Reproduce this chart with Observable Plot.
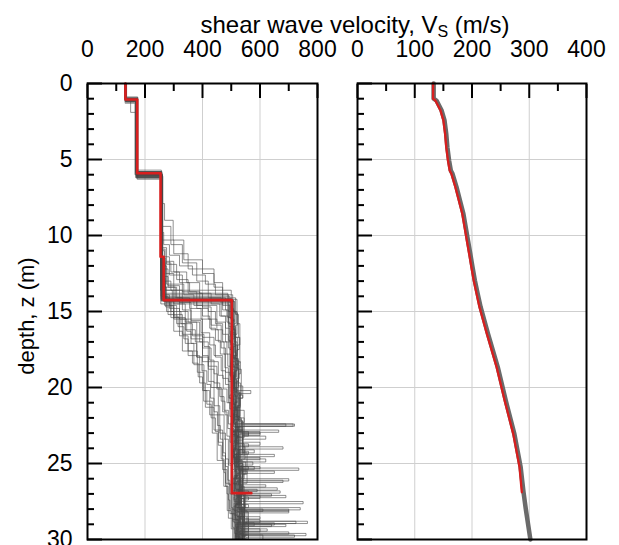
<!DOCTYPE html>
<html>
<head>
<meta charset="utf-8">
<script src="https://cdn.jsdelivr.net/npm/d3@7"></script>
<script src="https://cdn.jsdelivr.net/npm/@observablehq/plot@0.6"></script>
<style>
  html, body { margin: 0; padding: 0; background: #fff; }
  #wrap { position: relative; width: 619px; height: 545px; overflow: hidden;
          font-family: "Liberation Sans", Arial, sans-serif; color: #000; }
  #title { position: absolute; left: 0; width: 710px; top: 12px; text-align: center;
           font-size: 24px; line-height: 25px; white-space: nowrap; }
  #title sub { font-size: 16px; vertical-align: -4px; line-height: 0; }
  #ylab { position: absolute; left: 27px; top: 316px; font-size: 22px; white-space: nowrap;
          transform: translate(-50%, -50%) rotate(-90deg); }
  .panel { position: absolute; top: 0; }
</style>
</head>
<body>
<div id="wrap">
  <div id="title">shear wave velocity, V<sub>S</sub> (m/s)</div>
  <div id="ylab">depth, z (m)</div>
  <div id="p1" class="panel" style="left:0px"></div>
  <div id="p2" class="panel" style="left:330px"></div>
</div>
<script>
// ---------- axis tick values ----------
const depthLabels = [0, 5, 10, 15, 20, 25, 30];
const depthMinor = [1,2,3,4,6,7,8,9,11,12,13,14,16,17,18,19,21,22,23,24,26,27,28,29];
const depthGrid = [5, 10, 15, 20, 25];
const vsLeftLabels = [0, 200, 400, 600, 800];
const vsLeftMinor = [100, 300, 500, 700];
const vsLeftGrid = [200, 400, 600];
const vsRightLabels = [0, 100, 200, 300, 400];
const vsRightMinor = [50, 150, 250, 350];
const vsRightGrid = [100, 200, 300];

// ---------- left panel: layered profiles [layer top depth (m), Vs (m/s)] ----------
const medianLayers = [[0,132],[1.05,173],[5.9,254],[11.4,265],[14.25,502],[26.95,570]];
const medianEnd = 26.95;

const gp01 = [[0,132],[1.0,172],[6.0,256],[14.3,498],[15.5,510],[16.8,505],[18.0,515],[19.5,520],[21.0,510],[22.4,715],[22.55,515],[24.0,525],[25.5,540],[27.0,520],[28.5,600],[28.65,530]];
const gp02 = [[0,134],[1.2,168],[5.8,258],[13.9,505],[15.0,520],[16.5,512],[18.2,525],[20.0,515],[21.5,530],[23.0,560],[23.2,520],[25.3,735],[25.45,530],[27.0,545],[28.8,765],[28.95,540]];
const gp03 = [[0,130],[0.9,175],[6.2,255],[14.5,492],[16.0,500],[17.5,495],[19.2,505],[21.0,500],[22.8,665],[22.95,505],[24.5,520],[26.0,510],[27.5,750],[27.65,515],[29.2,530]];
const gp04 = [[0,136],[1.1,170],[6.1,262],[14.1,515],[15.2,525],[16.7,530],[18.4,520],[20.2,568],[20.4,525],[22.2,540],[23.6,600],[23.8,530],[26.1,680],[26.25,535],[28.2,560],[29.5,545]];
const gp05 = [[0,133],[1.0,174],[5.9,254],[13.6,500],[14.8,508],[16.2,515],[17.9,505],[19.6,512],[21.3,520],[22.9,505],[24.7,620],[24.9,512],[26.8,525],[28.0,700],[28.15,520],[29.7,720],[29.85,525]];
const gp06 = [[0,131],[1.3,165],[6.0,260],[14.2,520],[15.8,530],[17.2,522],[18.8,535],[20.5,528],[22.0,545],[23.3,530],[24.9,575],[25.1,535],[27.2,560],[27.4,530],[29.0,640],[29.15,535]];
const gp07 = [[0,135],[1.0,150],[1.9,171],[5.7,257],[12.8,270],[14.3,510],[15.6,500],[17.1,508],[18.7,500],[20.3,510],[22.1,520],[23.5,510],[25.0,530],[26.3,515],[27.9,540],[29.0,520]];
const gp08 = [[0,132],[0.95,173],[6.3,255],[11.5,272],[14.4,503],[16.1,512],[17.7,518],[19.3,508],[21.1,515],[22.6,525],[24.1,580],[24.3,518],[26.0,530],[27.6,510],[28.9,580],[29.1,525]];
const gp09 = [[0,133],[1.0,170],[6.0,258],[7.9,268],[9.0,298],[10.3,335],[11.6,400],[12.5,440],[13.4,470],[14.2,500],[15.6,510],[17.2,520],[18.9,515],[20.6,525],[22.2,540],[23.5,520],[25.2,560],[25.4,530],[27.3,545],[28.7,600],[28.9,540]];
const gp10 = [[0,134],[1.1,172],[5.9,256],[9.4,290],[10.6,330],[11.8,380],[13.0,420],[14.1,465],[15.3,490],[16.9,500],[18.5,510],[20.1,505],[21.8,520],[23.4,515],[25.0,540],[26.7,525],[28.2,545],[29.6,530]];
const gp11 = [[0,131],[1.0,175],[6.1,255],[10.3,300],[11.2,350],[12.2,440],[13.1,470],[13.9,490],[15.0,505],[16.4,515],[18.1,525],[19.7,532],[21.3,520],[22.8,540],[24.3,555],[25.7,540],[27.1,690],[27.25,545],[28.6,560],[29.9,550]];
const gp12 = [[0,135],[1.2,169],[6.0,261],[10.8,275],[11.9,310],[12.9,350],[13.8,400],[14.7,430],[15.9,465],[17.4,480],[19.0,495],[20.7,505],[22.4,515],[24.1,525],[25.8,510],[27.4,530],[28.9,520]];
const gp13 = [[0,132],[1.0,170],[5.8,259],[11.4,285],[12.6,330],[13.7,380],[14.6,450],[15.7,480],[17.0,500],[18.6,512],[20.3,530],[21.9,515],[23.2,620],[23.4,525],[25.2,540],[26.9,530],[28.3,540]];
const gp14 = [[0,133],[1.05,173],[6.2,257],[12.2,280],[13.3,320],[14.4,360],[15.5,400],[16.7,440],[17.9,470],[19.4,490],[21.0,500],[22.7,510],[24.4,520],[26.1,530],[27.8,540],[29.3,545]];
const gp15 = [[0,134],[1.0,170],[6.0,255],[13.0,265],[14.0,275],[15.0,300],[16.3,330],[17.6,382],[19.0,404],[20.9,434],[23.0,451],[24.8,474],[26.5,486],[28.1,500],[29.3,520]];
const gp16 = [[0,131],[1.1,168],[5.9,258],[12.5,270],[14.2,290],[15.4,320],[16.6,350],[17.9,390],[19.7,410],[21.3,440],[22.8,470],[24.5,480],[26.3,495],[28.0,510]];
const gp17 = [[0,133],[1.0,172],[6.1,260],[13.5,268],[14.6,310],[15.8,340],[17.1,370],[18.5,405],[20.2,425],[21.8,455],[23.6,470],[25.4,485],[27.0,490],[28.6,505]];
const gp18 = [[0,132],[1.2,171],[6.0,256],[14.0,280],[15.2,330],[16.5,380],[18.0,420],[19.6,440],[21.2,460],[23.0,480],[24.7,490],[26.4,500],[28.3,515]];
const gp19 = [[0,135],[1.0,174],[5.8,257],[14.3,300],[15.5,360],[16.8,400],[18.3,430],[20.0,455],[21.8,475],[23.4,490],[25.1,500],[27.0,505],[28.7,520]];
const gp20 = [[0,130],[1.1,170],[6.2,259],[12.0,275],[13.2,300],[14.5,340],[15.7,390],[17.0,420],[18.6,450],[20.1,470],[21.6,485],[23.2,495],[25.0,505],[26.8,510],[28.4,525]];
const gp21 = [[0,133],[1.0,171],[6.0,256],[14.2,505],[16.0,515],[18.0,510],[20.0,520],[22.0,525],[22.4,720],[22.55,520],[23.7,560],[23.9,525],[25.2,600],[25.35,530],[26.6,660],[26.75,530],[28.0,610],[28.15,535],[29.6,760],[29.75,535]];
const gp22 = [[0,134],[1.1,173],[5.9,257],[14.0,495],[15.4,505],[17.3,500],[19.1,510],[20.5,540],[20.7,505],[22.9,600],[23.05,510],[24.4,650],[24.55,515],[26.0,700],[26.15,520],[27.7,560],[27.9,520],[29.0,690],[29.15,520]];
const gp23 = [[0,133],[1.0,171],[6.05,257],[11.0,268],[11.8,290],[12.4,320],[13.1,355],[13.7,390],[14.3,420],[15.0,445],[15.8,470],[16.5,490],[17.4,505],[18.3,498],[19.2,512],[20.0,505],[20.9,520],[21.8,510],[22.6,530],[23.3,515],[24.1,545],[24.3,520],[25.0,530],[25.9,515],[26.7,590],[26.85,525],[27.6,535],[28.5,520],[29.3,625],[29.45,530]];
const gp24 = [[0,132],[1.15,169],[5.95,255],[12.0,262],[12.7,280],[13.4,305],[14.1,330],[14.9,360],[15.6,395],[16.4,425],[17.2,445],[18.0,465],[18.9,480],[19.8,492],[20.7,500],[21.5,510],[22.3,505],[23.1,520],[23.9,512],[24.7,528],[25.5,650],[25.65,520],[26.4,535],[27.2,520],[28.0,540],[28.8,725],[28.95,530],[29.6,540]];
const gp25 = [[0,134],[1.0,172],[6.1,258],[9.8,265],[10.6,285],[11.3,320],[12.0,365],[12.6,410],[13.2,445],[13.9,470],[14.6,488],[15.4,500],[16.2,510],[17.0,520],[17.9,512],[18.7,525],[19.6,518],[20.4,530],[21.2,522],[22.0,535],[22.9,525],[23.7,545],[24.5,530],[25.3,540],[26.2,530],[27.0,550],[27.9,535],[28.7,545],[29.5,540]];
const gp26 = [[0,131],[1.05,170],[5.85,256],[13.2,262],[13.9,285],[14.6,300],[15.3,315],[16.0,335],[16.8,350],[17.6,365],[18.4,385],[19.3,400],[20.2,415],[21.1,430],[22.0,445],[22.9,455],[23.8,465],[24.7,475],[25.6,480],[26.5,490],[27.4,495],[28.3,505],[29.2,510]];
const gp27 = [[0,133],[1.0,173],[6.0,259],[14.0,272],[14.7,300],[15.4,340],[16.2,375],[17.0,400],[17.9,420],[18.8,440],[19.7,460],[20.6,475],[21.5,490],[22.4,500],[23.3,505],[24.2,510],[25.1,515],[26.0,505],[26.9,520],[27.8,510],[28.7,525],[29.6,515]];
const gp28 = [[0,135],[1.1,171],[6.15,256],[12.4,266],[13.0,290],[13.6,330],[14.2,380],[14.8,420],[15.5,450],[16.2,470],[17.0,485],[17.8,498],[18.7,505],[19.6,512],[20.5,508],[21.4,520],[22.3,513],[23.2,530],[24.1,520],[25.0,540],[25.9,525],[26.8,560],[27.0,530],[27.9,545],[28.8,530],[29.7,610]];
const gp29 = [[0,132],[1.0,172],[5.95,257],[14.15,500],[14.9,510],[15.7,505],[16.5,515],[17.3,508],[18.1,520],[18.9,512],[19.7,525],[20.5,515],[21.3,530],[22.1,520],[22.9,560],[23.1,525],[23.9,680],[24.05,530],[24.8,540],[25.6,525],[26.4,620],[26.55,530],[27.3,545],[28.1,530],[28.9,650],[29.05,535],[29.7,545]];
const gp30 = [[0,133],[1.1,170],[6.05,258],[13.8,488],[14.6,495],[15.4,502],[16.3,498],[17.2,505],[18.1,500],[19.0,510],[19.9,503],[20.8,515],[21.7,508],[22.6,540],[22.8,510],[23.6,520],[24.4,512],[25.2,580],[25.4,515],[26.2,525],[27.0,640],[27.15,520],[27.9,530],[28.7,520],[29.5,700],[29.65,525]];
const gp31 = [[0,134],[0.9,174],[5.8,256],[12.9,268],[14.35,512],[15.1,522],[15.9,515],[16.7,528],[17.5,520],[18.3,532],[19.1,525],[19.9,540],[20.7,530],[21.5,545],[22.3,535],[23.0,600],[23.15,540],[23.9,548],[24.7,535],[25.5,555],[26.3,540],[27.1,600],[27.3,545],[28.1,555],[28.9,540],[29.7,560]];
const gp32 = [[0,131],[1.2,168],[6.2,255],[11.9,270],[14.1,480],[14.9,490],[15.8,500],[16.6,495],[17.5,505],[18.4,498],[19.3,510],[20.2,502],[21.1,512],[22.0,505],[22.9,518],[23.8,508],[24.6,600],[24.75,512],[25.5,520],[26.3,510],[27.1,525],[27.9,740],[28.05,515],[28.7,525],[29.4,515]];
const gp33 = [[0,132],[1.0,171],[6.0,260],[13.4,275],[14.2,470],[14.9,485],[15.7,495],[16.5,505],[17.4,500],[18.3,515],[19.2,508],[20.1,520],[21.0,512],[21.9,528],[22.8,518],[23.6,540],[24.4,525],[25.2,545],[26.0,530],[26.8,670],[26.95,535],[27.7,548],[28.5,532],[29.3,600],[29.5,540]];
const gp34 = [[0,133],[1.05,172],[5.9,258],[14.25,508],[15.0,516],[15.8,510],[16.7,522],[17.6,515],[18.5,528],[19.4,518],[20.3,530],[21.2,520],[22.1,535],[22.4,690],[22.55,525],[23.3,540],[24.1,528],[24.9,550],[25.7,532],[26.5,545],[27.3,535],[28.1,700],[28.25,540],[29.0,550],[29.8,540]];
const gp35 = [[0,132],[1.0,171],[6.0,257],[11.8,272],[12.5,300],[13.2,335],[13.9,370],[14.6,400],[15.3,425],[16.1,445],[16.9,462],[17.8,478],[18.7,490],[19.6,500],[20.5,495],[21.4,508],[22.3,500],[23.2,515],[24.1,505],[25.0,520],[25.9,510],[26.8,530],[27.7,515],[28.6,540],[29.5,525]];
const gp36 = [[0,134],[1.1,170],[5.9,259],[13.0,270],[13.6,295],[14.3,320],[15.0,350],[15.7,380],[16.5,405],[17.3,425],[18.2,440],[19.1,452],[20.0,465],[20.9,478],[21.8,488],[22.7,496],[23.6,502],[24.5,510],[25.4,505],[26.3,518],[27.2,510],[28.1,525],[29.0,515],[29.8,530]];
const gp37 = [[0,133],[1.0,172],[6.1,256],[12.6,264],[13.4,310],[14.1,355],[14.8,395],[15.5,430],[16.2,455],[17.0,475],[17.8,488],[18.6,498],[19.5,505],[20.4,500],[21.3,512],[22.2,505],[23.1,520],[24.0,510],[24.9,526],[25.8,515],[26.7,535],[27.6,520],[28.5,545],[29.4,530]];
const gp38 = [[0,131],[1.05,173],[6.0,258],[14.1,285],[14.8,320],[15.5,345],[16.3,360],[17.1,380],[18.0,398],[18.9,415],[19.8,428],[20.7,440],[21.6,452],[22.5,462],[23.4,472],[24.3,480],[25.2,488],[26.1,495],[27.0,500],[27.9,505],[28.8,512],[29.6,518]];
const gp39 = [[0,135],[1.2,169],[6.2,257],[10.9,270],[11.7,300],[12.4,345],[13.1,390],[13.8,430],[14.5,460],[15.3,480],[16.1,495],[17.0,505],[17.9,500],[18.8,510],[19.7,505],[20.6,518],[21.5,510],[22.4,525],[23.3,515],[24.2,560],[24.4,520],[25.3,530],[26.2,520],[27.1,545],[28.0,530],[28.9,555],[29.7,535]];
const gp40 = [[0,132],[1.0,170],[5.85,255],[13.6,262],[14.3,290],[15.0,325],[15.8,365],[16.6,400],[17.4,430],[18.3,455],[19.2,472],[20.1,485],[21.0,495],[21.9,502],[22.8,510],[23.7,505],[24.6,515],[25.5,510],[26.4,522],[27.3,515],[28.2,528],[29.1,520]];
const grayProfiles = [gp01,gp02,gp03,gp04,gp05,gp06,gp07,gp08,gp09,gp10,gp11,gp12,gp13,gp14,gp15,gp16,gp17,gp18,gp19,gp20,
                      gp21,gp22,gp23,gp24,gp25,gp26,gp27,gp28,gp29,gp30,gp31,gp32,gp33,gp34,gp35,gp36,gp37,gp38,gp39,gp40];
const profileEnd = 30;

// ---------- right panel: smooth profiles [depth (m), Vs (m/s)] ----------
const smoothMedian = [[0,132],[1.0,132],[1.12,136],[1.78,145],[2.43,150],[3.31,153],[4.19,155],[5.07,158],[5.72,161],[5.94,164],[6.82,171],[7.7,177],[8.57,183],[9.45,187],[10.33,191],[11.2,195],[12.09,199],[12.96,203],[13.84,208],[14.7,213],[16.47,226],[18.66,243],[20.86,257],[23.05,272],[25.24,283],[26.89,287]];
const smoothGray = [[0,133],[1.0,133],[1.12,138],[1.78,147],[2.43,152],[3.31,155],[4.19,157],[5.07,160],[5.72,163],[5.94,166],[6.82,173],[7.7,179],[8.57,185],[9.45,189],[10.33,193],[11.2,197],[12.09,201],[12.96,205],[13.84,210],[14.7,215],[16.47,228],[18.66,245],[20.86,259],[23.05,274],[25.24,285],[26.89,290],[28.0,294],[29.0,298],[30,302]];

// ---------- build step-line points ----------
function stepPoints(layers, id, end) {
  const pts = [];
  layers.forEach(([top, vs], i) => {
    const bottom = i + 1 < layers.length ? layers[i + 1][0] : end;
    pts.push({id, vs, z: top}, {id, vs, z: bottom});
  });
  return pts;
}
const grayPts = grayProfiles.flatMap((p, k) => stepPoints(p, k, profileEnd));
const redPts = stepPoints(medianLayers, "median", medianEnd);
const smoothRedPts = smoothMedian.map(([z, vs]) => ({z, vs}));
const smoothGrayPts = smoothGray.map(([z, vs]) => ({z, vs}));

const font = '"Liberation Sans", Arial, sans-serif';
const gridColor = "#cfcfcf";
const red = "#d81e1e";
const tickFont = 23;

function frameMarks(xLabels, xMinor, showYLabels) {
  const m = [
    Plot.frame({stroke: "#000", strokeWidth: 2}),
    Plot.axisX({ticks: xLabels, anchor: "top", tickSize: 0, tickPadding: 27, fontSize: tickFont, label: null}),
    Plot.axisX({ticks: xLabels, anchor: "top", tickSize: -14, text: null, strokeWidth: 2, label: null}),
    Plot.axisX({ticks: xMinor, anchor: "top", tickSize: -7, text: null, strokeWidth: 2, label: null}),
    Plot.axisY({ticks: depthLabels, anchor: "left", tickSize: -15, text: null, strokeWidth: 2, label: null}),
    Plot.axisY({ticks: depthMinor, anchor: "left", tickSize: -7, text: null, strokeWidth: 2, label: null})
  ];
  if (showYLabels) m.push(Plot.axisY({ticks: depthLabels, anchor: "left", tickSize: 0, tickPadding: 15, fontSize: tickFont, label: null}));
  return m;
}

const leftPlot = Plot.plot({
  width: 330, height: 545,
  marginLeft: 87, marginRight: 13, marginTop: 83, marginBottom: 6,
  style: {fontFamily: font, background: "transparent", overflow: "visible", color: "#000"},
  x: {domain: [0, 800], axis: null},
  y: {domain: [0, 30], reverse: true, axis: null},
  marks: [
    Plot.gridX({ticks: vsLeftGrid, stroke: gridColor, strokeOpacity: 1}),
    Plot.gridY({ticks: depthGrid, stroke: gridColor, strokeOpacity: 1}),
    Plot.line(grayPts, {x: "vs", y: "z", z: "id", stroke: "#4a4a4a", strokeWidth: 0.9, strokeOpacity: 0.68}),
    Plot.line(redPts, {x: "vs", y: "z", stroke: red, strokeWidth: 2.6}),
    ...frameMarks(vsLeftLabels, vsLeftMinor, true)
  ]
});
document.getElementById("p1").appendChild(leftPlot);

const rightPlot = Plot.plot({
  width: 260, height: 545,
  marginLeft: 27, marginRight: 4, marginTop: 83, marginBottom: 6,
  style: {fontFamily: font, background: "transparent", overflow: "visible", color: "#000"},
  x: {domain: [0, 400], axis: null},
  y: {domain: [0, 30], reverse: true, axis: null},
  marks: [
    Plot.gridX({ticks: vsRightGrid, stroke: gridColor, strokeOpacity: 1}),
    Plot.gridY({ticks: depthGrid, stroke: gridColor, strokeOpacity: 1}),
    Plot.line(smoothGrayPts, {x: "vs", y: "z", stroke: "#6a6a6a", strokeWidth: 4.5}),
    Plot.line(smoothRedPts, {x: "vs", y: "z", stroke: red, strokeWidth: 2.3}),
    ...frameMarks(vsRightLabels, vsRightMinor, false)
  ]
});
document.getElementById("p2").appendChild(rightPlot);
</script>
</body>
</html>
